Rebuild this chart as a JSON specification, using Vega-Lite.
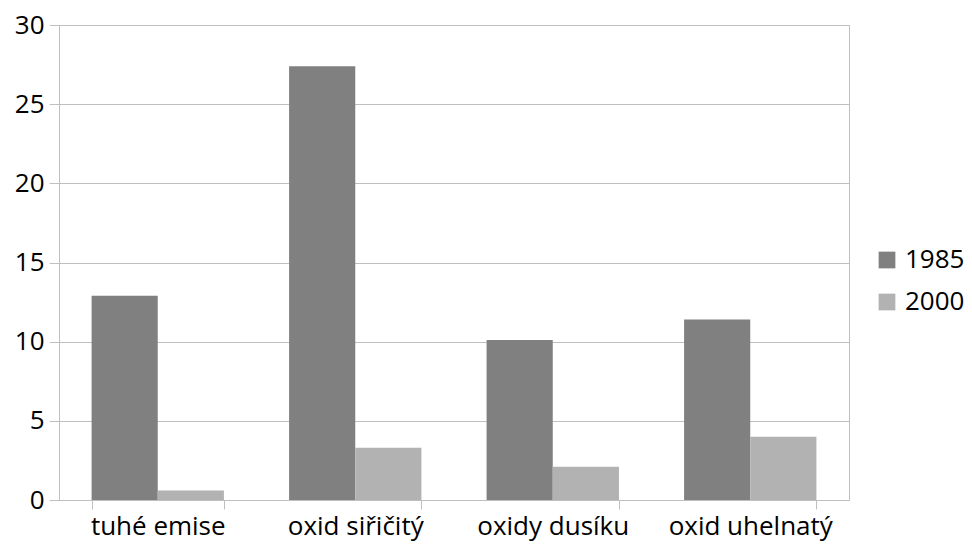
{
  "$schema": "https://vega.github.io/schema/vega-lite/v6.json",
  "width": 790,
  "height": 475,
  "autosize": {"type": "none"},
  "padding": {"left": 59, "top": 25, "right": 123, "bottom": 47},
  "background": "white",
  "config": {
    "view": {"stroke": "#bfbfbf", "strokeWidth": 1},
    "font": "Open Sans"
  },
  "data": {
    "values": [
      {"category": "tuhé emise", "year": "1985", "value": 12.9},
      {"category": "tuhé emise", "year": "2000", "value": 0.6},
      {"category": "oxid siřičitý", "year": "1985", "value": 27.4},
      {"category": "oxid siřičitý", "year": "2000", "value": 3.3},
      {"category": "oxidy dusíku", "year": "1985", "value": 10.1},
      {"category": "oxidy dusíku", "year": "2000", "value": 2.1},
      {"category": "oxid uhelnatý", "year": "1985", "value": 11.4},
      {"category": "oxid uhelnatý", "year": "2000", "value": 4.0}
    ]
  },
  "mark": {"type": "bar"},
  "encoding": {
    "x": {
      "field": "category",
      "type": "nominal",
      "sort": null,
      "scale": {"paddingInner": 0.33, "paddingOuter": 0.165},
      "axis": {
        "title": null,
        "labelAngle": 0,
        "labelFont": "Open Sans",
        "labelFontSize": 26,
        "labelColor": "#000000",
        "labelPadding": 4,
        "tickBand": "extent",
        "tickSize": 9,
        "tickColor": "#bfbfbf",
        "domainColor": "#bfbfbf",
        "grid": false
      }
    },
    "xOffset": {"field": "year", "type": "nominal", "scale": {"paddingInner": 0, "paddingOuter": 0}},
    "y": {
      "field": "value",
      "type": "quantitative",
      "scale": {"domain": [0, 30], "nice": false},
      "axis": {
        "title": null,
        "values": [0, 5, 10, 15, 20, 25, 30],
        "labelFont": "Open Sans",
        "labelFontSize": 26,
        "labelColor": "#000000",
        "labelPadding": 5,
        "tickSize": 10,
        "tickColor": "#bfbfbf",
        "domainColor": "#bfbfbf",
        "grid": true,
        "gridColor": "#bfbfbf"
      }
    },
    "color": {
      "field": "year",
      "type": "nominal",
      "scale": {"domain": ["1985", "2000"], "range": ["#808080", "#b2b2b2"]},
      "legend": {
        "title": null,
        "orient": "none",
        "legendX": 815,
        "legendY": 222,
        "symbolType": "square",
        "symbolSize": 280,
        "symbolStrokeWidth": 0,
        "labelFont": "Open Sans",
        "labelFontSize": 26,
        "labelColor": "#000000",
        "rowPadding": 16,
        "labelOffset": 5
      }
    }
  }
}
